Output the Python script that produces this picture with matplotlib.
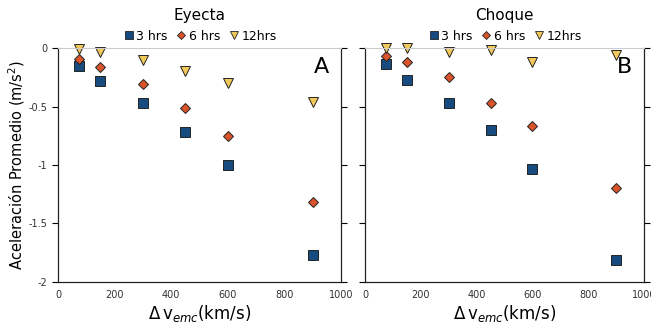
import matplotlib
matplotlib.use("Agg")
import matplotlib.pyplot as plt
from matplotlib.lines import Line2D

plt.rcParams['axes.unicode_minus'] = False

# velocidades (km/s)
dv = [75, 150, 300, 450, 600, 900]

# panel A: eyecta
eye_3h = [-0.15, -0.28, -0.47, -0.72, -1.00, -1.77]
eye_6h = [-0.09, -0.16, -0.31, -0.51, -0.75, -1.32]
eye_12h = [-0.01, -0.03, -0.10, -0.20, -0.30, -0.46]

# panel B: choque
cho_3h = [-0.14, -0.27, -0.47, -0.70, -1.03, -1.81]
cho_6h = [-0.07, -0.12, -0.25, -0.47, -0.67, -1.20]
cho_12h = [0.00, 0.00, -0.03, -0.02, -0.12, -0.06]

labels = ['3 hrs', '6 hrs', '12hrs']
xticks = [0, 200, 400, 600, 800, 1000]
yticks = [0, -0.5, -1, -1.5, -2]
yticklabels = ['0', '-0.5', '-1', '-1.5', '-2']

styles = [
    dict(marker='s', color='#174b80', ms=7),
    dict(marker='D', color='#d9542b', ms=5),
    dict(marker='v', color='#f0c95a', ms=7),
]

fig = plt.figure(figsize=(6.51, 3.29), dpi=100)
axA = fig.add_axes([0.089, 0.143, 0.435, 0.711])
axB = fig.add_axes([0.561, 0.143, 0.428, 0.711])


def panel(ax, series, title, letter, ylabels=True):
    for ys, st, lab in zip(series, styles, labels):
        ax.plot(dv, ys, linestyle='none', marker=st['marker'], ms=st['ms'],
                mfc=st['color'], mec='#222222', mew=0.7, label=lab, clip_on=False)
    ax.set_xlim(0, 1000)
    ax.set_ylim(-2, 0)
    ax.set_xticks(xticks)
    ax.set_yticks(yticks)
    if ylabels:
        ax.set_yticklabels(yticklabels)
    else:
        ax.set_yticklabels([])
    ax.tick_params(axis='x', length=0, labelsize=7, colors='#333333', pad=6)
    ax.tick_params(axis='y', length=4, width=0.8, labelsize=7, colors='black',
                   labelcolor='#333333', right=True, direction='out')
    ax.spines['top'].set_color('#cccccc')
    for s in ['left', 'right', 'bottom']:
        ax.spines[s].set_color('#222222')
        ax.spines[s].set_linewidth(0.9)
    ax.set_title(title, fontsize=11, pad=20)
    ax.text(0.93, 0.92, letter, transform=ax.transAxes, fontsize=16,
            ha='center', va='center')
    handles = [Line2D([], [], linestyle='none', marker=st['marker'],
                      ms=st['ms'] - 1, mfc=st['color'], mec='#222222', mew=0.6)
               for st in styles]
    ax.legend(handles, labels, loc='lower center', bbox_to_anchor=(0.5, 0.99),
              ncol=3, frameon=False, fontsize=9, handletextpad=0.1,
              columnspacing=0.6, handlelength=1.0, borderpad=0.1)
    ax.set_xlabel(r'$\Delta\,$v$_{emc}$(km/s)', fontsize=12, labelpad=2)


panel(axA, [eye_3h, eye_6h, eye_12h], 'Eyecta', 'A')
panel(axB, [cho_3h, cho_6h, cho_12h], 'Choque', 'B', ylabels=False)
axA.set_ylabel('Aceleración Promedio (m/s$^2$)', fontsize=10.5, labelpad=1)

fig.savefig('out.png', dpi=100)
